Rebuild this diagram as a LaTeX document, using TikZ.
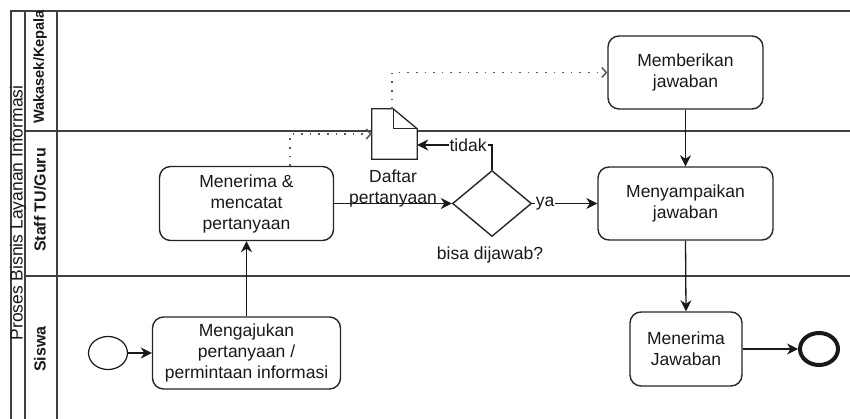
\documentclass[tikz,border=0pt]{standalone}
\usepackage{fontspec}
\setmainfont{Liberation Sans}
\usetikzlibrary{arrows.meta,shapes.geometric}
\begin{document}
\begin{tikzpicture}[x=1pt,y=-1pt,
  txt/.style={font=\fontsize{17.5}{21}\selectfont, text=black!90},
  task/.style={draw=black!85, line width=1.4pt, rounded corners=11pt, fill=white, align=center, inner sep=0pt, txt},
  flow/.style={draw=black!90, line width=1.3pt, -{Stealth[length=11pt,width=11pt,inset=3.5pt]}},
  assoc/.style={draw=black!65, line width=1.5pt, dash pattern=on 1.6pt off 7pt, -{Straight Barb[length=4.5pt,width=10pt]}},
  pool/.style={draw=black!75, line width=1.4pt},
  lanelbl/.style={font=\bfseries\fontsize{16}{18}\selectfont, text=black!90, rotate=90, inner sep=0pt},
  evt/.style={ellipse, draw=black!90, inner sep=0pt}
]
\useasboundingbox (0,0) rectangle (850,419);
% pool and lanes
\draw[pool] (11,430) -- (11,11) -- (860,11);
\draw[pool] (25,11) -- (25,430);
\draw[pool] (57,11) -- (57,430);
\draw[pool] (25,131) -- (860,131);
\draw[pool] (25,276) -- (860,276);
\node[rotate=90, inner sep=0pt, text=black!90, font=\fontsize{17.5}{20}\selectfont] (pooltitle) at (18,213) {Proses Bisnis Layanan Informasi};
\node[lanelbl, font=\bfseries\fontsize{14.6}{17}\selectfont] (l1) at (40,67) {Wakasek/Kepala};
\node[lanelbl] (l2) at (40,200) {Staff TU/Guru};
\node[lanelbl] (l3) at (40,349) {Siswa};
% nodes
\node[evt, line width=1.2pt, minimum width=39pt, minimum height=33pt] (start) at (108,353) {};
\node[task, minimum width=188pt, minimum height=72pt] (ask) at (246.5,353) {Mengajukan\\pertanyaan /\\permintaan informasi};
\node[task, minimum width=174pt, minimum height=74pt] (rec) at (246.5,203.5) {Menerima \&\\mencatat\\pertanyaan};
\node[diamond, draw=black!85, line width=1.4pt, minimum width=79pt, minimum height=66pt, inner sep=0pt] (dec) at (492,203.5) {};
\node[txt] (declbl) at (490,255) {bisa dijawab?};
\node[minimum width=45pt, minimum height=50pt, inner sep=0pt] (doc) at (394.5,134) {};
\draw[draw=black!85, line width=1.3pt, fill=white, line join=miter]
  (doc.north west) -- ([xshift=-24pt]doc.north east) -- ([yshift=-20pt]doc.north east) -- (doc.south east) -- (doc.south west) -- cycle;
\draw[draw=black!85, line width=1.3pt]
  ([xshift=-24pt]doc.north east) -- ([xshift=-24pt,yshift=-20pt]doc.north east) -- ([yshift=-20pt]doc.north east);
\node[txt, align=center] (doclbl) at (393,188) {Daftar\\pertanyaan};
\node[task, minimum width=155pt, minimum height=73pt] (give) at (685.5,72.5) {Memberikan\\jawaban};
\node[task, minimum width=175pt, minimum height=73pt] (send) at (685.5,203.5) {Menyampaikan\\jawaban};
\node[task, minimum width=112pt, minimum height=74pt] (recv) at (686,349) {Menerima\\Jawaban};
\node[evt, line width=4pt, minimum width=38pt, minimum height=32pt] (end) at (819,349) {};
% connectors
\draw[flow] (start.east) -- (ask.west);
\draw[flow] (ask.north) -- (rec.south);
\draw[flow] (rec.east) -- (dec.west);
\draw[flow] (dec.east) -- node[pos=0.2, fill=white, inner sep=1pt, txt]{ya} (send.west);
\draw[flow] (dec.north) |- node[pos=0.66, fill=white, inner sep=1pt, txt]{tidak} ([yshift=-11pt]doc.east);
\draw[assoc] ([xshift=43.5pt]rec.north) |- (doc.west);
\draw[assoc] ([xshift=-2.5pt]doc.north) |- (give.west);
\draw[flow] (give.south) -- (send.north);
\draw[flow] (send.south) -- (recv.north);
\draw[flow] (recv.east) -- (end.west);
\end{tikzpicture}
\end{document}
